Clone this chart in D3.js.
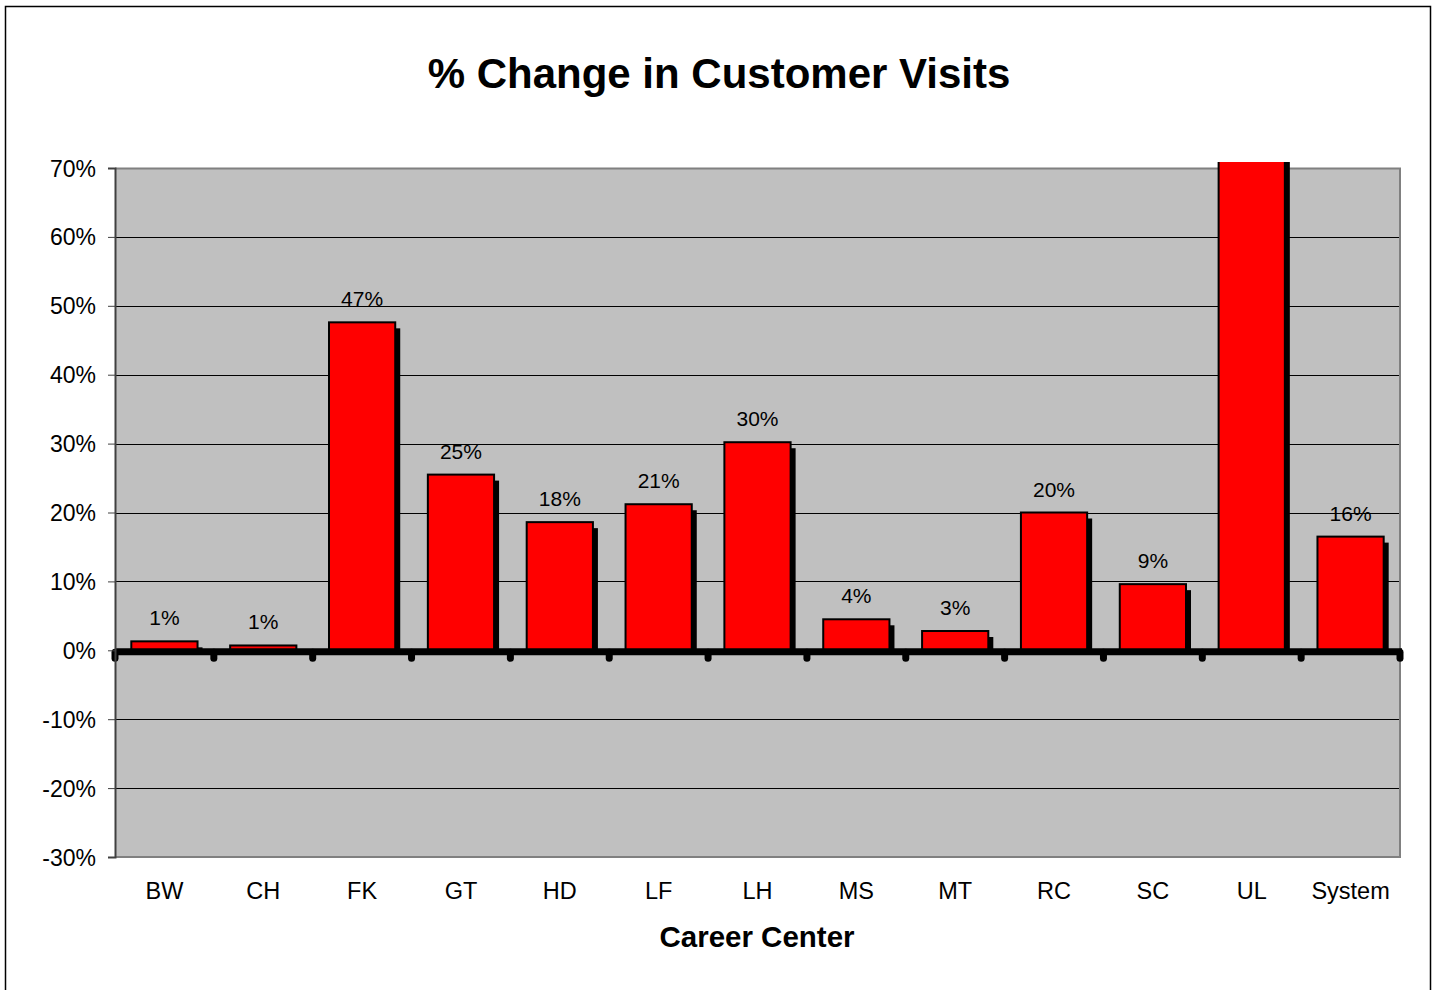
<!DOCTYPE html>
<html><head><meta charset="utf-8">
<script src="https://cdn.jsdelivr.net/npm/d3@7"></script>
<style>body{margin:0;background:#fff}svg{display:block;font-family:"Liberation Sans",Arial,sans-serif}</style>
</head><body>
<svg id="c" width="1436" height="990"></svg>
<script>
const categories = ["BW","CH","FK","GT","HD","LF","LH","MS","MT","RC","SC","UL","System"];
const values = [0.013,0.007,0.476,0.255,0.186,0.212,0.302,0.045,0.028,0.200,0.096,0.80,0.165];
const labels = ["1%","1%","47%","25%","18%","21%","30%","4%","3%","20%","9%","","16%"];
const yTicks = [-0.3,-0.2,-0.1,0,0.1,0.2,0.3,0.4,0.5,0.6,0.7];

const svg = d3.select("#c");
const L=115, R=1400, T=168, B=857;
svg.append("rect").attr("x",5.5).attr("y",6.5).attr("width",1425).attr("height",990).attr("fill","#fff").attr("stroke","#000").attr("stroke-width",1.5);

const x = d3.scaleBand().domain(categories).range([L,R]).paddingInner(0.33).paddingOuter(0.165);
const xb = d3.scaleBand().domain(categories).range([L,R]);
const y = d3.scaleLinear().domain([-0.3,0.7]).range([B,T]);

svg.append("rect").attr("x",L).attr("y",T).attr("width",R-L).attr("height",B-T).attr("fill","#c0c0c0");
svg.append("g").selectAll("line").data(yTicks.filter(d=>d!==0 && d!==0.7 && d!==-0.3)).join("line")
  .attr("x1",L).attr("x2",R).attr("y1",d=>Math.round(y(d))+0.5).attr("y2",d=>Math.round(y(d))+0.5)
  .attr("stroke","#000").attr("stroke-width",1);
svg.append("path").attr("d",`M${L},${T+0.5}H${R}V${B}H${L}`).attr("fill","none").attr("stroke","#808080").attr("stroke-width",2);

svg.append("defs").append("clipPath").attr("id","clip").append("rect").attr("x",0).attr("y",T-6).attr("width",1436).attr("height",B-T+6);
const gb = svg.append("g").attr("clip-path","url(#clip)");
const w = x.bandwidth();
gb.selectAll("rect.sh").data(values).join("rect").attr("class","sh")
  .attr("x",(d,i)=>x(categories[i])+5).attr("width",w)
  .attr("y",d=>y(d)+6).attr("height",d=>Math.max(0,y(0)-y(d)-6))
  .attr("fill","#000");
gb.selectAll("rect.bar").data(values).join("rect").attr("class","bar")
  .attr("x",(d,i)=>x(categories[i])).attr("width",w)
  .attr("y",d=>y(d)).attr("height",d=>y(0)-y(d))
  .attr("fill","#ff0000").attr("stroke","#000").attr("stroke-width",2);

svg.append("g").selectAll("text").data(values).join("text")
  .attr("x",(d,i)=>x(categories[i])+w/2).attr("y",d=>y(d)-16)
  .attr("text-anchor","middle").attr("font-size",21).attr("fill","#000")
  .text((d,i)=>labels[i]);

// zero axis
svg.append("line").attr("x1",L).attr("x2",R+2).attr("y1",y(0)+1.5).attr("y2",y(0)+1.5).attr("stroke","#000").attr("stroke-width",7);
const bounds = categories.map(c=>xb(c)).concat([R]);
svg.append("g").selectAll("line").data(bounds).join("line")
  .attr("x1",d=>d).attr("x2",d=>d).attr("y1",y(0)+2).attr("y2",y(0)+8)
  .attr("stroke","#000").attr("stroke-width",7).attr("stroke-linecap","round");

const fmt = d => Math.round(d*100) + "%";
const ya = svg.append("g").attr("transform",`translate(${L},0)`)
  .call(d3.axisLeft(y).tickValues(yTicks).tickFormat(fmt).tickSize(7).tickPadding(12));
ya.select(".domain").attr("stroke","#404040").attr("stroke-width",2);
ya.selectAll(".tick line").attr("stroke","#404040");
ya.selectAll(".tick text").attr("font-size",23).attr("fill","#000").attr("font-family","Liberation Sans, Arial, sans-serif").attr("dy","0.35em");

svg.append("g").selectAll("text").data(categories).join("text")
  .attr("x",d=>xb(d)+xb.bandwidth()/2).attr("y",899)
  .attr("text-anchor","middle").attr("font-size",23.5).text(d=>d);

svg.append("text").attr("x",757).attr("y",947).attr("text-anchor","middle").attr("font-size",29.5).attr("font-weight","bold").text("Career Center");
svg.append("text").attr("x",719).attr("y",88).attr("text-anchor","middle").attr("font-size",42).attr("font-weight","bold").text("% Change in Customer Visits");
</script>
</body></html>
